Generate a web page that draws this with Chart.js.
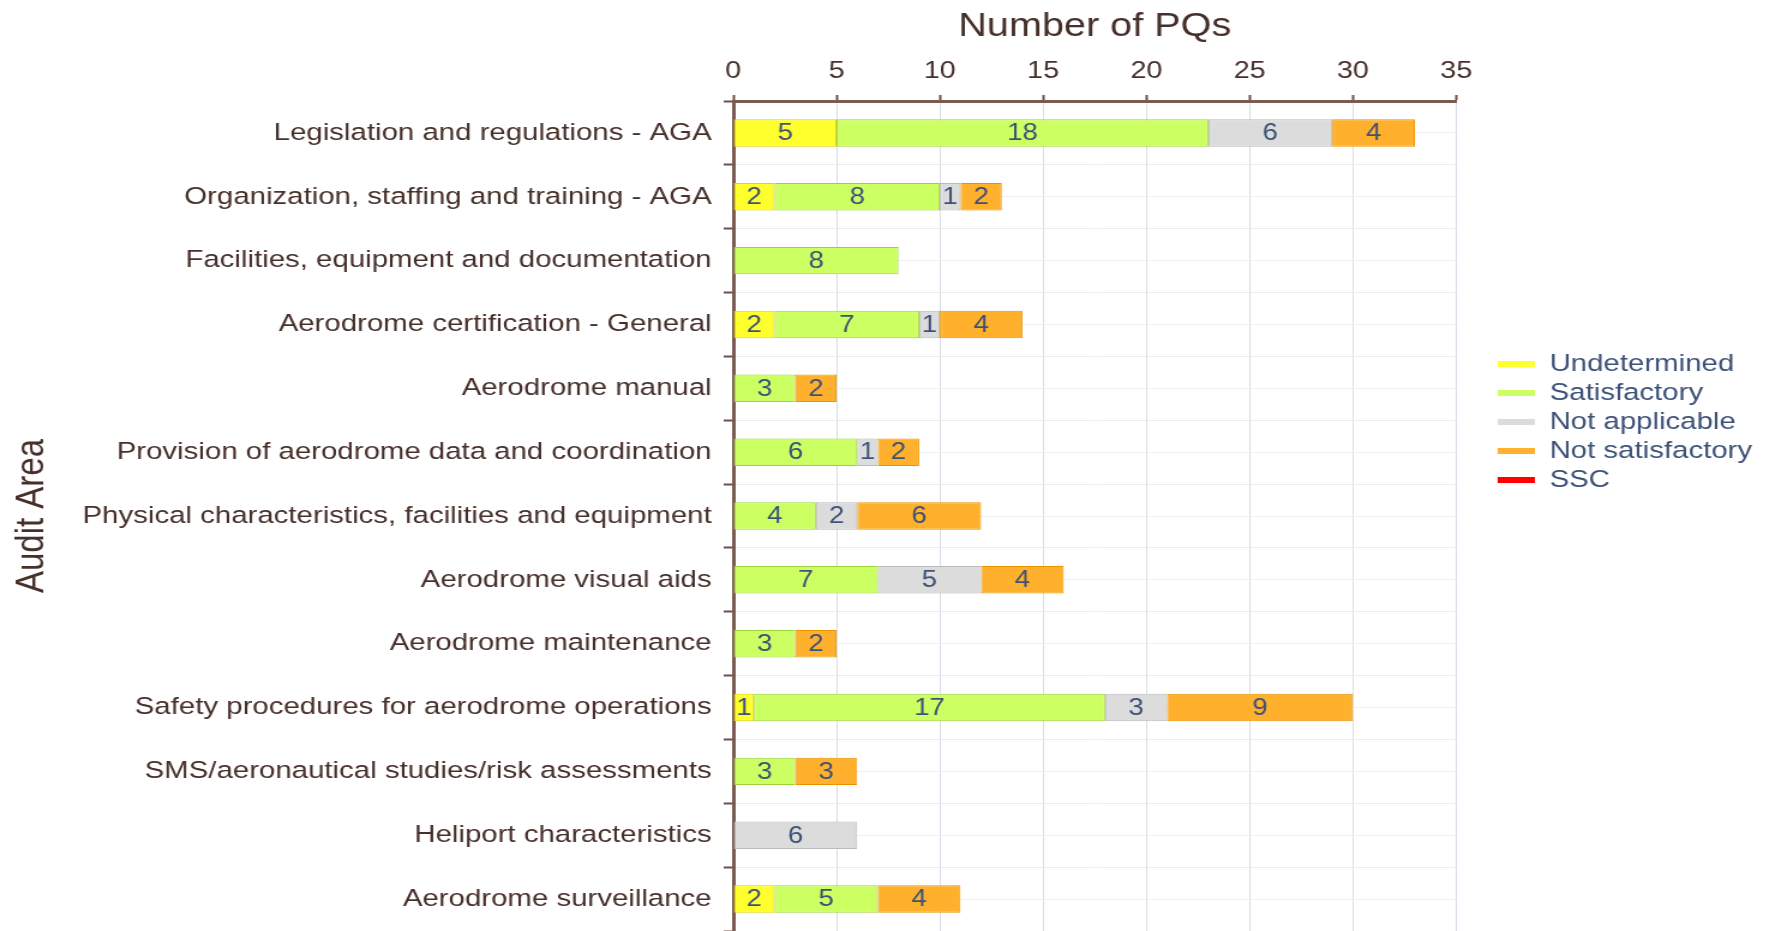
<!DOCTYPE html>
<html>
<head>
<meta charset="utf-8">
<script src="https://cdn.jsdelivr.net/npm/chart.js@4.4.1/dist/chart.umd.min.js"></script>
<style>
  html, body { margin: 0; padding: 0; background: #fff; overflow: hidden; }
  /* el gráfico original está estirado en horizontal, se imita con scaleX */
  #wrap { position: absolute; left: 0; top: 0; width: 1474px; height: 931px; transform: scaleX(1.2001); transform-origin: 0 0; }
</style>
</head>
<body>
<div id="wrap"><canvas id="chartPQ"></canvas></div>
<script>
const categorias = [
    'Legislation and regulations - AGA',
    'Organization, staffing and training - AGA',
    'Facilities, equipment and documentation',
    'Aerodrome certification - General',
    'Aerodrome manual',
    'Provision of aerodrome data and coordination',
    'Physical characteristics, facilities and equipment',
    'Aerodrome visual aids',
    'Aerodrome maintenance',
    'Safety procedures for aerodrome operations',
    'SMS/aeronautical studies/risk assessments',
    'Heliport characteristics',
    'Aerodrome surveillance'
];
const undetermined    = [5, 2, 0, 2, 0, 0, 0, 0, 0, 1, 0, 0, 2];
const satisfactory    = [18, 8, 8, 7, 3, 6, 4, 7, 3, 17, 3, 0, 5];
const notApplicable   = [6, 1, 0, 1, 0, 1, 2, 5, 0, 3, 0, 6, 0];
const notSatisfactory = [4, 2, 0, 4, 2, 2, 6, 4, 2, 9, 3, 0, 4];
const ssc             = [0, 0, 0, 0, 0, 0, 0, 0, 0, 0, 0, 0, 0];
const ticksX = [0, 5, 10, 15, 20, 25, 30, 35];

const FUENTE = '"Liberation Sans", Arial, sans-serif';
const MARRON = '#47302a';
const AZUL_TEXTO = '#3d5278';

Chart.defaults.font.family = FUENTE;
Chart.defaults.color = MARRON;

// muestra de leyenda: hueco + línea corta
function lineaLeyenda(color) {
    const c = document.createElement('canvas');
    c.width = 61; c.height = 6;
    const g = c.getContext('2d');
    g.fillStyle = color;
    g.fillRect(30, 0, 31, 6);
    return c;
}

const etiquetasValor = {
    id: 'etiquetasValor',
    afterDatasetsDraw(chart) {
        const ctx = chart.ctx;
        ctx.save();
        ctx.font = `23px ${FUENTE}`;
        ctx.fillStyle = AZUL_TEXTO;
        ctx.textAlign = 'center';
        ctx.textBaseline = 'middle';
        chart.data.datasets.forEach((ds, i) => {
            const meta = chart.getDatasetMeta(i);
            if (meta.hidden) return;
            meta.data.forEach((bar, j) => {
                const v = ds.data[j];
                if (!v) return;
                ctx.fillText(String(v), (bar.x + bar.base) / 2, bar.y + 1);
            });
        });
        ctx.restore();
    }
};

const serie = (label, data, fill, border) => ({
    label, data, backgroundColor: fill, borderColor: border, borderWidth: 1,
    borderSkipped: false, categoryPercentage: 1, barPercentage: 0.43, stack: 'pq'
});

new Chart(document.getElementById('chartPQ'), {
    type: 'bar',
    data: {
        labels: categorias,
        datasets: [
            serie('Undetermined', undetermined, '#ffff2e', '#e2d400'),
            serie('Satisfactory', satisfactory, '#ccff62', '#9fd23a'),
            serie('Not applicable', notApplicable, '#dcdcdc', '#b9b9b9'),
            serie('Not satisfactory', notSatisfactory, '#ffb02c', '#ec9400'),
            serie('SSC', ssc, '#ff0000', '#e00000')
        ]
    },
    options: {
        indexAxis: 'y',
        responsive: true,
        maintainAspectRatio: false,
        animation: false,
        layout: { padding: { left: 0, right: 4, top: 0, bottom: 0 } },
        scales: {
            x: {
                position: 'top', stacked: true, min: 0, max: 35,
                afterBuildTicks: s => { s.ticks = ticksX.map(v => ({ value: v })); },
                afterFit: s => { s.height = 101; s.paddingLeft = 0; s.paddingRight = 0; },
                ticks: { autoSkip: false, padding: 9, font: { size: 24 }, color: MARRON },
                grid: { color: '#d6dee8', lineWidth: 1, tickColor: '#6e5048', tickLength: 6, tickWidth: 2 },
                border: { color: '#7a5a52', width: 3 },
                title: { display: true, text: 'Number of PQs', font: { size: 33 }, color: MARRON, padding: { top: 7, bottom: 0 } }
            },
            y: {
                stacked: true,
                afterFit: s => { s.width = 611; s.paddingTop = 0; s.paddingBottom = 0; },
                ticks: { autoSkip: false, padding: 10, font: { size: 24.5 }, color: MARRON },
                grid: { offset: true, color: '#ededed', tickColor: '#6e5048', tickLength: 8, tickWidth: 2 },
                border: { color: '#7a5a52', width: 3 },
                title: { display: true, text: 'Audit Area', font: { size: 33 }, color: MARRON, padding: { top: 7, bottom: 0 } }
            },
            y2: {
                type: 'category', labels: categorias, position: 'left', offset: true,
                afterFit: s => { s.width = 0; s.paddingTop = 0; s.paddingBottom = 0; },
                ticks: { display: false },
                grid: { offset: false, drawTicks: false, color: '#f0f0f0' },
                border: { display: false }
            }
        },
        plugins: {
            legend: {
                position: 'right',
                align: 'start',
                maxWidth: 320,
                title: { display: true, text: ' ', font: { size: 10, lineHeight: 1 }, padding: { top: 0, bottom: 337 } },
                labels: {
                    usePointStyle: true,
                    pointStyleWidth: 61,
                    padding: 4.5,
                    color: AZUL_TEXTO,
                    font: { size: 24.5 },
                    generateLabels: chart => Chart.defaults.plugins.legend.labels.generateLabels(chart).map(l => {
                        const ds = chart.data.datasets[l.datasetIndex];
                        return { ...l, pointStyle: lineaLeyenda(ds.backgroundColor), hidden: false };
                    })
                }
            },
            tooltip: { enabled: false }
        }
    },
    plugins: [etiquetasValor]
});
</script>
</body>
</html>
